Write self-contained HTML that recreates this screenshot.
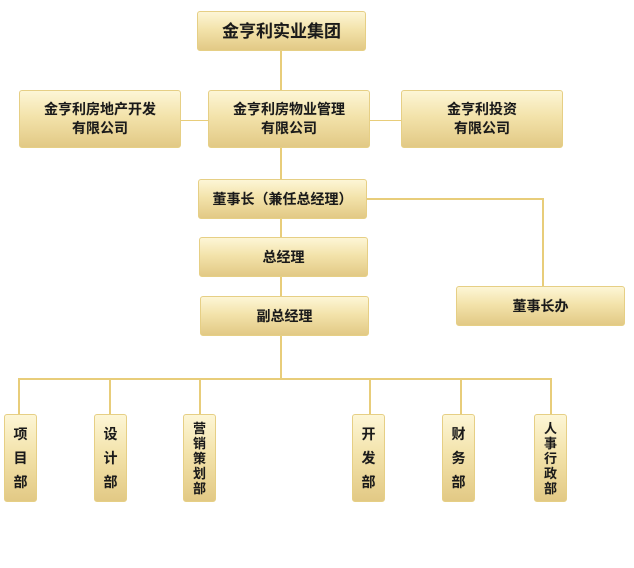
<!DOCTYPE html>
<html><head><meta charset="utf-8"><style>
body{margin:0;width:634px;height:568px;background:#fff;position:relative;overflow:hidden;font-family:"Liberation Sans","Noto Sans CJK SC",sans-serif;font-weight:bold;color:#1a1a1a}
.b{position:absolute;box-sizing:border-box;border:1px solid #e6cf85;border-radius:3px;background:linear-gradient(#fdf6d6,#f3e3ab 45%,#e2c985);display:flex;align-items:center;justify-content:center;text-align:center;font-size:14px;line-height:19px;text-shadow:0 0 1px rgba(0,0,0,.15)}
.l{position:absolute;background:#e8cd7a}
.v{flex-direction:column;font-size:14px}
</style></head><body>
<div class="l" style="left:280px;top:50px;width:2px;height:40px"></div>
<div class="l" style="left:180px;top:120px;width:228px;height:1px"></div>
<div class="l" style="left:369px;top:120px;width:32px;height:1px"></div>
<div class="l" style="left:280px;top:147px;width:2px;height:189px"></div>
<div class="l" style="left:366px;top:198px;width:178px;height:2px"></div>
<div class="l" style="left:542px;top:198px;width:2px;height:89px"></div>
<div class="l" style="left:280px;top:335px;width:2px;height:44px"></div>
<div class="l" style="left:18px;top:378px;width:534px;height:2px"></div>
<div class="l" style="left:18px;top:378px;width:2px;height:36px"></div>
<div class="l" style="left:109px;top:378px;width:2px;height:36px"></div>
<div class="l" style="left:199px;top:378px;width:2px;height:36px"></div>
<div class="l" style="left:369px;top:378px;width:2px;height:36px"></div>
<div class="l" style="left:460px;top:378px;width:2px;height:36px"></div>
<div class="l" style="left:550px;top:378px;width:2px;height:36px"></div>

<div class="b" style="left:197px;top:11px;width:169px;height:40px;font-size:17px">金亨利实业集团</div>
<div class="b" style="left:19px;top:90px;width:162px;height:58px">金亨利房地产开发<br>有限公司</div>
<div class="b" style="left:208px;top:90px;width:162px;height:58px">金亨利房物业管理<br>有限公司</div>
<div class="b" style="left:401px;top:90px;width:162px;height:58px">金亨利投资<br>有限公司</div>
<div class="b" style="left:198px;top:179px;width:169px;height:40px">董事长（兼任总经理）</div>
<div class="b" style="left:199px;top:237px;width:169px;height:40px">总经理</div>
<div class="b" style="left:200px;top:296px;width:169px;height:40px">副总经理</div>
<div class="b" style="left:456px;top:286px;width:169px;height:40px">董事长办</div>

<div class="b v" style="left:4px;top:414px;width:33px;height:88px;line-height:24px">项<br>目<br>部</div>
<div class="b v" style="left:94px;top:414px;width:33px;height:88px;line-height:24px">设<br>计<br>部</div>
<div class="b v" style="left:183px;top:414px;width:33px;height:88px;line-height:15px;font-size:13px">营<br>销<br>策<br>划<br>部</div>
<div class="b v" style="left:352px;top:414px;width:33px;height:88px;line-height:24px">开<br>发<br>部</div>
<div class="b v" style="left:442px;top:414px;width:33px;height:88px;line-height:24px">财<br>务<br>部</div>
<div class="b v" style="left:534px;top:414px;width:33px;height:88px;line-height:15px;font-size:13px">人<br>事<br>行<br>政<br>部</div>
</body></html>
